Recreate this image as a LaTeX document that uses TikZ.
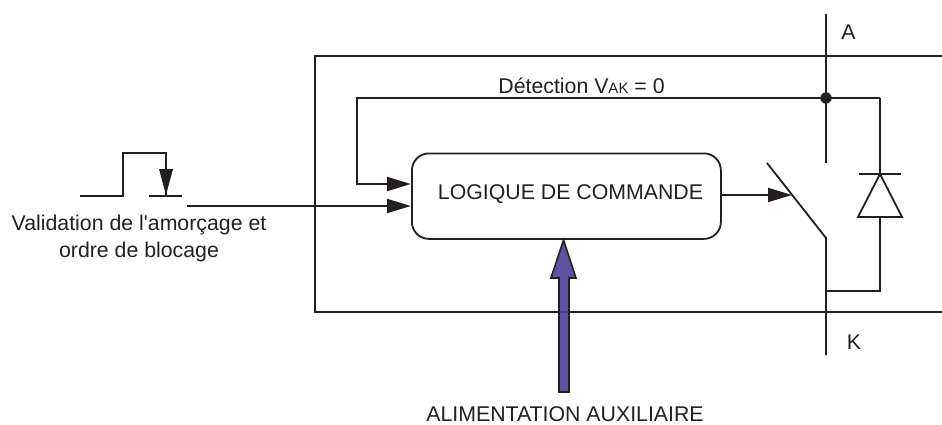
\documentclass[tikz,border=0pt]{standalone}
\usepackage{fontspec}
\newfontfamily\labfont{Liberation Sans}
\usetikzlibrary{arrows.meta}
\definecolor{ink}{HTML}{231F20}
\definecolor{violetfill}{HTML}{4F4499}
\tikzset{
  wire/.style={draw=ink,line width=1.8pt,line join=miter},
  sig/.style={wire,-{Triangle[length=24pt,width=14pt,ink]}},
  lab/.style={text=ink,font=\labfont\fontsize{21.3}{27}\selectfont,inner sep=0pt},
  logicbox/.style={wire,rounded corners=17pt,minimum width=309pt,minimum height=85.5pt,inner sep=0pt,anchor=north west,fill=none},
}
\begin{document}
\begin{tikzpicture}[x=1pt,y=-1pt]
\useasboundingbox (0,0) rectangle (942,425);
% coordinates
\coordinate (boxTR) at (942,56);
\coordinate (boxTL) at (315,56);
\coordinate (boxBL) at (315,312);
\coordinate (boxBR) at (942,312);
\coordinate (Atop) at (826,14);
\coordinate (Abot) at (826,163);
\coordinate (junction) at (826,98);
\coordinate (Kbot) at (826,355);
\coordinate (pivot) at (826,238);
\coordinate (swEnd) at (767,163);
\coordinate (swHit) at (792,195);
\coordinate (fbA) at (357,98);
\coordinate (fbB) at (357,184);
\coordinate (dRight) at (880,98);
\coordinate (dApex) at (880,174);
\coordinate (dBase) at (880,217);
\coordinate (dBL) at (858,217);
\coordinate (dBR) at (902,217);
\coordinate (dBarL) at (859,174);
\coordinate (dBarR) at (901,174);
\coordinate (dLow) at (880,291);
\coordinate (kJoin) at (826,291);
\coordinate (inStart) at (187,206);
\coordinate (p0) at (80,196);
\coordinate (p1) at (123,196);
\coordinate (p2) at (123,153);
\coordinate (p3) at (166,153);
\coordinate (p4) at (166,196);
\coordinate (bar0) at (149,196);
\coordinate (bar1) at (182,196);
\node[logicbox] (logic) at (411,152.5) {};
\node[lab,anchor=center] (logicText) at (570.5,194) {LOGIQUE DE COMMANDE};
% outer box
\draw[wire] (boxTR) -- (boxTL) -- (boxBL) -- (boxBR);
% main line A-K
\draw[wire] (Atop) -- (Abot);
\draw[wire] (swEnd) -- (pivot) -- (Kbot);
\draw[sig] (logic.east |- swHit) -- (swHit);
% feedback
\draw[wire] (dRight) -- (junction);
\draw[sig] (junction) -- (fbA) -- (fbB) -- (logic.west |- fbB);
\fill[ink] (junction) circle (5.7pt);
% diode
\draw[wire] (dRight) -- (dApex);
\draw[wire] (dBarL) -- (dBarR);
\draw[wire] (dApex) -- (dBR) -- (dBL) -- cycle;
\draw[wire] (dBase) -- (dLow) -- (kJoin);
% input
\draw[sig] (inStart) -- (logic.west |- inStart);
% pulse
\draw[wire] (p0) -- (p1) -- (p2) -- (p3) -- (p4);
\draw[wire] (bar0) -- (bar1);
\draw[draw=none,fill=ink] (159,169) -- (173,169) -- (166,195) -- cycle;
% auxiliary supply arrow
\draw[draw=ink,line width=1.6pt,fill=violetfill,fill opacity=.92,line join=miter]
  (559,392) -- (559,278) -- (551,278) -- (563.5,240) -- (576,278) -- (569,278) -- (569,392) -- cycle;
% labels
\node[lab,align=center] (val) at (139,238.5) {Validation de l'amorçage et\\ordre de blocage};
\node[lab] (det) at (581.5,86) {Détection V{\fontsize{15}{15}\selectfont AK} = 0};
\node[lab] (aLab) at (848.5,32.5) {A};
\node[lab] (kLab) at (854,342) {K};
\node[lab] (alim) at (565,414) {ALIMENTATION AUXILIAIRE};
\end{tikzpicture}
\end{document}
